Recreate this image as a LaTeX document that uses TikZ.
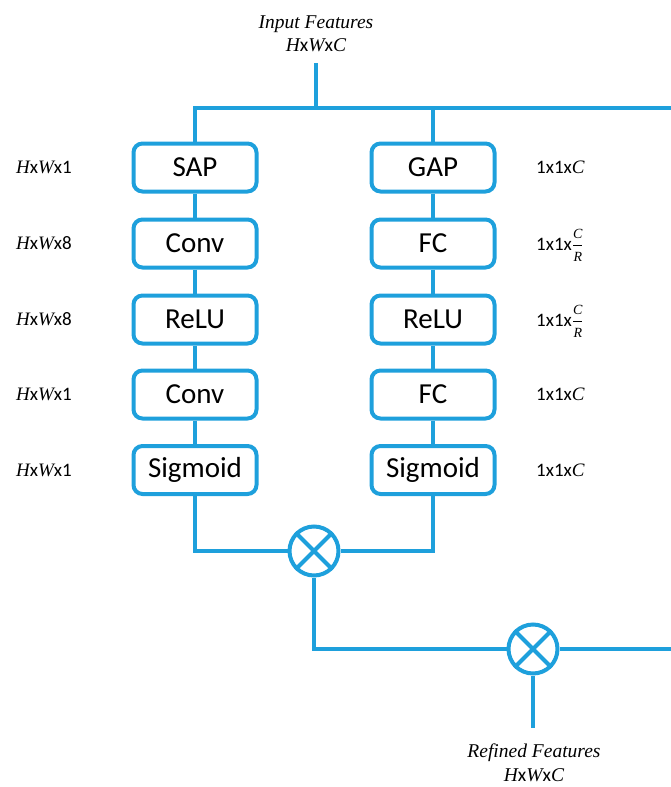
\documentclass[tikz,border=0pt]{standalone}
\usepackage{fontspec}
\newfontfamily\carl{Carlito}
\newfontfamily\lsi{Liberation Serif Italic}
\definecolor{lblue}{RGB}{30,160,220}
\newcommand{\dx}{{\carl x}}
\newcommand{\vH}{{\lsi H}}
\newcommand{\vW}{{\lsi W}}
\newcommand{\vC}{{\lsi C}}
\newcommand{\smallit}[1]{\mbox{\fontsize{14}{14}\selectfont\lsi #1}}
\newcommand{\fracCR}{$\displaystyle\frac{\smallit{C}}{\smallit{R}}$}
\begin{document}
\begin{tikzpicture}[x=1pt,y=-1pt,
  line/.style={draw=lblue,line width=4pt},
  box/.style={draw=lblue,line width=4pt,rounded corners=9pt,minimum width=123pt,minimum height=48pt,inner sep=0pt,font=\carl\fontsize{29}{31}\selectfont},
  mult/.style={circle,draw=lblue,line width=4pt,minimum size=49pt,inner sep=0pt},
  dim/.style={font=\fontsize{19}{21}\selectfont,inner sep=0pt},
  feat/.style={font=\lsi\fontsize{19.5}{23.5}\selectfont,align=center,inner sep=0pt}]
\useasboundingbox (0,0) rectangle (670,787);

% boxes
\node[box] (sap)   at (195,167.5) {SAP};
\node[box] (conv1) at (195,243.5) {Conv};
\node[box] (relu1) at (195,319.5) {ReLU};
\node[box] (conv2) at (195,394.5) {Conv};
\node[box] (sig1)  at (195,470)   {Sigmoid};
\node[box] (gap)   at (433,167.5) {GAP};
\node[box] (fc1)   at (433,243.5) {FC};
\node[box] (relu2) at (433,319.5) {ReLU};
\node[box] (fc2)   at (433,394.5) {FC};
\node[box] (sig2)  at (433,470)   {Sigmoid};

% multipliers
\node[mult] (m1) at (314,551) {};
\node[mult] (m2) at (533,649) {};
\draw[line] (m1.north west) -- (m1.south east) (m1.north east) -- (m1.south west);
\draw[line] (m2.north west) -- (m2.south east) (m2.north east) -- (m2.south west);

% coordinates
\coordinate (top) at (316,63);
\coordinate (split) at (316,108);
\coordinate (east1) at (672,108);
\coordinate (east2) at (672,649);
\coordinate (out) at (533,728);

% connectors
\draw[line] (top) -- (split);
\draw[line] (sap.north) |- (east1);
\draw[line] (gap.north) -- (gap.north |- split);
\draw[line] (sap) -- (conv1);
\draw[line] (conv1) -- (relu1);
\draw[line] (relu1) -- (conv2);
\draw[line] (conv2) -- (sig1);
\draw[line] (gap) -- (fc1);
\draw[line] (fc1) -- (relu2);
\draw[line] (relu2) -- (fc2);
\draw[line] (fc2) -- (sig2);
\draw[line] (sig1.south) |- (m1.west);
\draw[line] (sig2.south) |- (m1.east);
\draw[line] (m1.south) |- (m2.west);
\draw[line] (m2.east) -- (east2);
\draw[line] (m2.south) -- (out);

% feature labels
\node[feat] (inlbl) at (316,34) {Input Features\\\vH\dx\vW\dx\vC};
\node[feat] (outlbl) at (534,763) {Refined Features\\\vH\dx\vW\dx\vC};

% dimension labels left
\node[dim] (dl1) at (44,167.5) {\vH\dx\vW\dx{\carl 1}};
\node[dim] (dl2) at (44,243.5) {\vH\dx\vW\dx{\carl 8}};
\node[dim] (dl3) at (44,319.5) {\vH\dx\vW\dx{\carl 8}};
\node[dim] (dl4) at (44,394.5) {\vH\dx\vW\dx{\carl 1}};
\node[dim] (dl5) at (44,470)   {\vH\dx\vW\dx{\carl 1}};

% dimension labels right
\node[dim,anchor=west] (dr1) at (536,167.5) {{\carl 1x1x}\vC};
\node[dim,anchor=base west] (dr2) at (536,250) {{\carl 1x1x}\fracCR};
\node[dim,anchor=base west] (dr3) at (536,326) {{\carl 1x1x}\fracCR};
\node[dim,anchor=west] (dr4) at (536,394.5) {{\carl 1x1x}\vC};
\node[dim,anchor=west] (dr5) at (536,470)   {{\carl 1x1x}\vC};
\end{tikzpicture}
\end{document}
